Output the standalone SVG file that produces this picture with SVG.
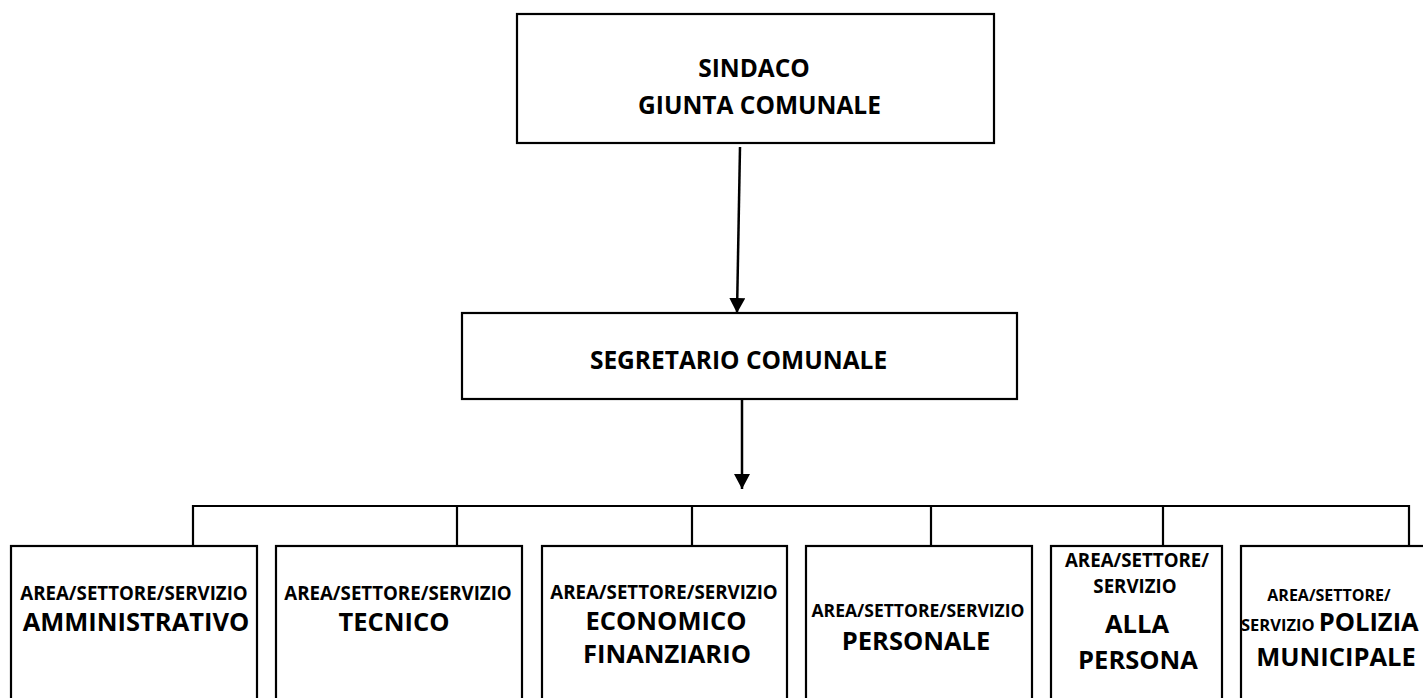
<svg xmlns="http://www.w3.org/2000/svg" width="1423" height="698" viewBox="0 0 1423 698">
<style>
.box{fill:#fff;stroke:#000;stroke-width:2.2}
.ln{fill:none;stroke:#000;stroke-width:2.2}
.ar{fill:none;stroke:#000;stroke-width:2.5}
text{font-family:"Open Sans","Liberation Sans",sans-serif;font-weight:bold;fill:#000;text-anchor:middle}
.t{font-size:24.5px}
.s{font-size:18.7px}
.b{font-size:25.5px}
</style>
<defs>
<marker id="ah" markerWidth="15" markerHeight="16" refX="15" refY="8" orient="auto" markerUnits="userSpaceOnUse">
<path d="M0,0 L15,8 L0,16 Z" fill="#000"/>
</marker>
</defs>
<rect width="1423" height="698" fill="#fff"/>
<g id="connectors">
<line class="ar" x1="740" y1="147" x2="737" y2="313" marker-end="url(#ah)"/>
<line class="ar" x1="742" y1="400" x2="742" y2="489" marker-end="url(#ah)"/>
<path class="ln" d="M193,546 V506 H1409 V546 M457,506 V546 M692,506 V546 M931,506 V546 M1163,506 V546"/>
</g>
<g id="sindaco">
<rect class="box" x="517" y="14" width="477" height="129"/>
<text class="t" x="754" y="77">SINDACO</text>
<text class="t" x="759.5" y="114">GIUNTA COMUNALE</text>
</g>
<g id="segretario">
<rect class="box" x="462" y="313" width="555" height="86"/>
<text class="t" x="738.5" y="369">SEGRETARIO COMUNALE</text>
</g>
<g id="amministrativo">
<rect class="box" x="11" y="546" width="246" height="170"/>
<text class="s" x="134" y="600">AREA/SETTORE/SERVIZIO</text>
<text class="b" x="136" y="631">AMMINISTRATIVO</text>
</g>
<g id="tecnico">
<rect class="box" x="276" y="546" width="246" height="170"/>
<text class="s" x="398" y="600">AREA/SETTORE/SERVIZIO</text>
<text class="b" x="394" y="631">TECNICO</text>
</g>
<g id="economico">
<rect class="box" x="542" y="546" width="245" height="170"/>
<text class="s" x="664" y="599">AREA/SETTORE/SERVIZIO</text>
<text class="b" x="666" y="630">ECONOMICO</text>
<text class="b" x="667" y="663">FINANZIARIO</text>
</g>
<g id="personale">
<rect class="box" x="806" y="546" width="226" height="170"/>
<text class="s" x="918" y="617" style="font-size:17.5px">AREA/SETTORE/SERVIZIO</text>
<text class="b" x="916" y="650">PERSONALE</text>
</g>
<g id="persona">
<rect class="box" x="1051" y="546" width="171" height="170"/>
<text class="s" x="1137" y="567">AREA/SETTORE/</text>
<text class="s" x="1135" y="593">SERVIZIO</text>
<text class="b" x="1137" y="633">ALLA</text>
<text class="b" x="1138" y="669">PERSONA</text>
</g>
<g id="polizia">
<rect class="box" x="1241" y="546" width="200" height="170"/>
<text class="s" x="1329" y="601" style="font-size:16px">AREA/SETTORE/</text>
<text x="1241" y="631" style="text-anchor:start"><tspan style="font-size:16.5px">SERVIZIO</tspan> <tspan style="font-size:25.5px">POLIZIA</tspan></text>
<text class="b" x="1336" y="666">MUNICIPALE</text>
</g>
</svg>
